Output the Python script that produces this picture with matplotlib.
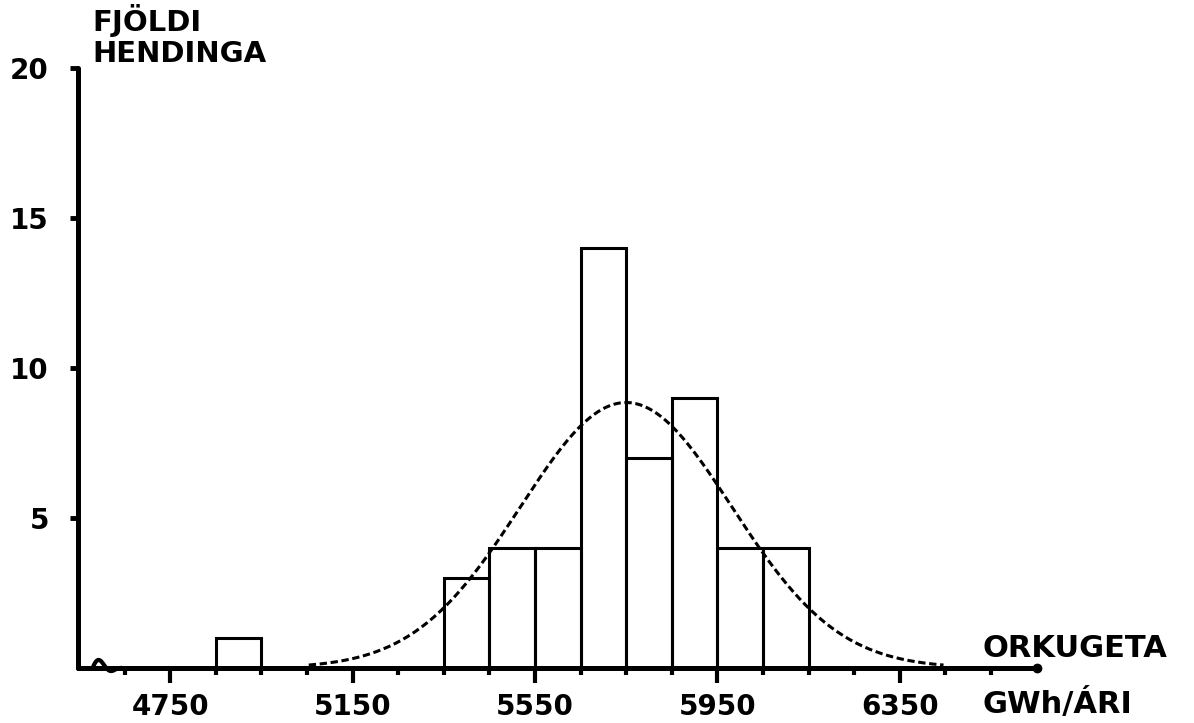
import numpy as np
import matplotlib
matplotlib.use('Agg')
import matplotlib.pyplot as plt

# histogram of energy capability (GWh/year), bins of 100 GWh
bin_left = [4850, 5350, 5450, 5550, 5650, 5750, 5850, 5950, 6050]
counts = [1, 3, 4, 4, 14, 7, 9, 4, 4]
bin_width = 100

# fitted normal curve
curve_mean = 5750
curve_std = 232
curve_peak = 8.85

major_ticks = [4750, 5150, 5550, 5950, 6350]
minor_ticks = [v for v in range(4650, 6600, 100) if v not in major_ticks]
y_ticks = [5, 10, 15, 20]

plt.rcParams['font.family'] = ['DejaVu Sans']
plt.rcParams['font.weight'] = 'bold'

fig = plt.figure(figsize=(11.94, 7.23), dpi=100)
W, H = 1194, 723
ax = fig.add_axes([78 / W, 55 / H, 959 / W, 600 / H])

ax.bar(bin_left, counts, width=bin_width, align='edge', fill=False,
       edgecolor='black', linewidth=2.2, zorder=3)

xs = np.linspace(curve_mean - 3 * curve_std, curve_mean + 3 * curve_std, 300)
ys = curve_peak * np.exp(-0.5 * ((xs - curve_mean) / curve_std) ** 2)
ax.plot(xs, ys, color='black', linewidth=2.2, dashes=(2.4, 1.2), zorder=4)

ax.set_xlim(4548, 6651)
ax.set_ylim(0, 20)

for s in ['top', 'right']:
    ax.spines[s].set_visible(False)
for s in ['left', 'bottom']:
    ax.spines[s].set_linewidth(3.6)
    ax.spines[s].set_capstyle('round')

ax.set_xticks(major_ticks)
ax.set_xticklabels([str(v) for v in major_ticks], fontsize=20, fontweight='bold')
ax.set_xticks(minor_ticks, minor=True)
ax.tick_params(axis='x', which='major', direction='out', length=11, width=3, pad=7)
ax.tick_params(axis='x', which='minor', direction='out', length=5, width=3)

ax.set_yticks(y_ticks)
ax.set_yticklabels([str(v) for v in y_ticks], fontsize=20, fontweight='bold')
ax.tick_params(axis='y', which='major', direction='out', length=6, width=3.5, pad=15)

# end dot of the x axis and small axis break squiggle
ax.plot([6650], [0], 'o', color='black', markersize=6, clip_on=False, zorder=5)
t = np.linspace(0, 1, 40)
ax.plot(4580 + 60 * t, 0.35 * np.sin(2 * np.pi * t) * (1 - t), color='black',
        linewidth=3, clip_on=False, zorder=5)

fig.text(92 / W, 1 - 31 / H, 'FJÖLDI', fontsize=21, fontweight='bold', va='baseline')
fig.text(92 / W, 1 - 62 / H, 'HENDINGA', fontsize=21, fontweight='bold', va='baseline')
fig.text(982 / W, 1 - 657 / H, 'ORKUGETA', fontsize=22, fontweight='bold', va='baseline')
fig.text(983 / W, 1 - 713 / H, 'GWh/ÁRI', fontsize=22, fontweight='bold', va='baseline')

fig.savefig('out.png', dpi=100)
